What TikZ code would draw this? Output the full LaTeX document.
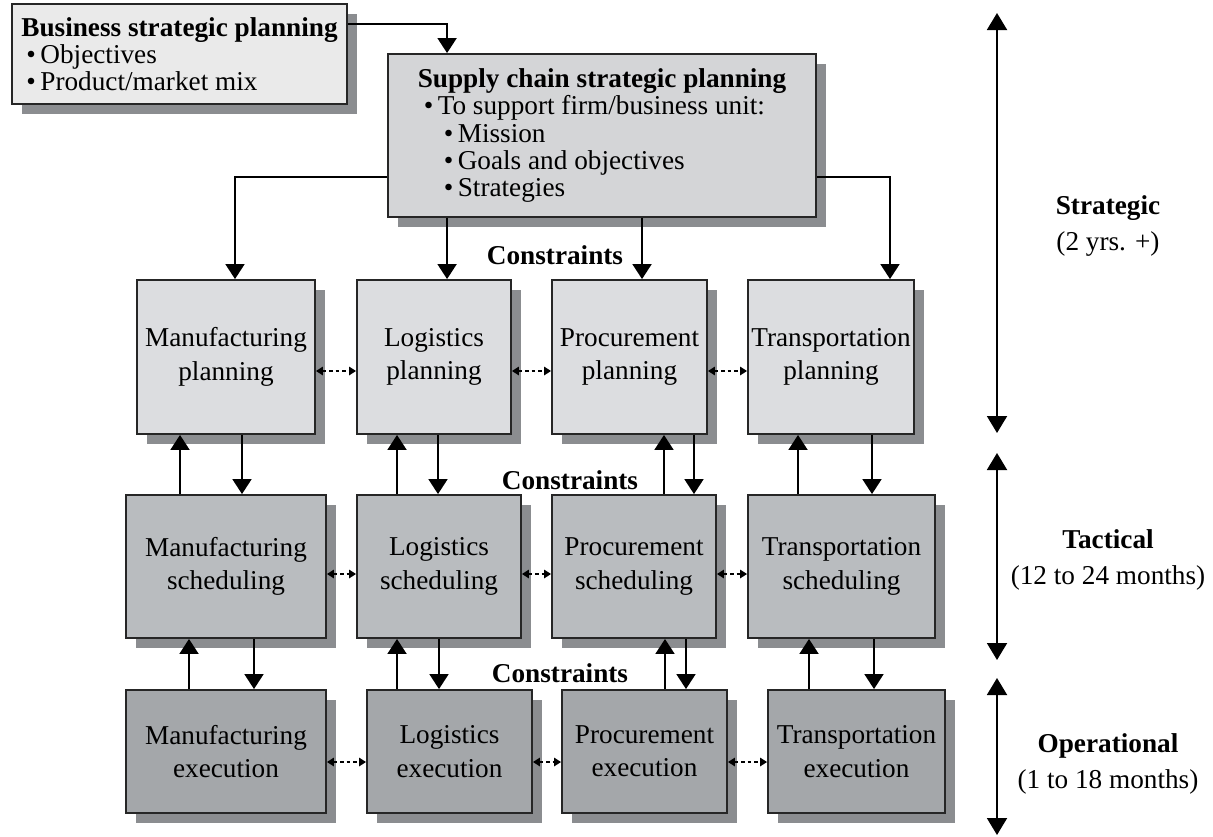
\documentclass[tikz,border=0pt]{standalone}
\usepackage{fontspec}
\setmainfont{Liberation Serif}
\usepackage{tikz}
\usetikzlibrary{arrows.meta,shadows}

\definecolor{shadowgray}{HTML}{8B8D90}
\definecolor{bizgray}{HTML}{EAEAEA}
\definecolor{stratgray}{HTML}{D4D5D7}
\definecolor{plangray}{HTML}{DCDDE0}
\definecolor{schedgray}{HTML}{B9BCBF}
\definecolor{execgray}{HTML}{A4A7AA}

\tikzstyle{block} = [rectangle, draw=black!85, line width=1.1pt, text centered, align=center, inner sep=1pt, font=\fontsize{15.5}{19}\selectfont, drop shadow={shadow xshift=0.2cm, shadow yshift=-0.2cm, fill=shadowgray, opacity=1}]
\tikzstyle{listbox} = [block, align=left, font=\fontsize{15.5}{15.5}\selectfont]
\tikzstyle{planbox} = [block, fill=plangray, minimum height=3.08cm]
\tikzstyle{schedbox} = [block, fill=schedgray, minimum height=2.86cm]
\tikzstyle{execbox} = [block, fill=execgray, minimum height=2.46cm]
\tikzstyle{note} = [font=\fontsize{15.5}{20}\selectfont, align=center]
\tikzstyle{connector} = [line width=1.1pt, -{Triangle[width=0.38cm,length=0.3cm]}]
\tikzstyle{link} = [line width=0.8pt, dash pattern=on 0.07cm off 0.06cm, {Triangle[width=0.17cm,length=0.14cm]}-{Triangle[width=0.17cm,length=0.14cm]}]
\tikzstyle{span} = [line width=1.1pt, {Triangle[width=0.4cm,length=0.34cm]}-{Triangle[width=0.4cm,length=0.34cm]}]

\begin{document}
\begin{tikzpicture}[x=0.02cm, y=-0.02cm]
    \useasboundingbox (0,0) rectangle (1213,836);
    % top level
    \node (bsp) [listbox, fill=bizgray, minimum width=6.7cm, minimum height=2cm] at (179.5,54) {\textbf{Business strategic planning}\\\hspace*{0.1cm}\textbullet\,Objectives\\\hspace*{0.1cm}\textbullet\,Product/market mix};
    \node (scsp) [listbox, fill=stratgray, minimum width=8.56cm, minimum height=3.26cm] at (602,135.5) {\textbf{Supply chain strategic planning}\\\hspace*{0.12cm}\textbullet\,To support firm/business unit:\\\hspace*{0.52cm}\textbullet\,Mission\\\hspace*{0.52cm}\textbullet\,Goals and objectives\\\hspace*{0.52cm}\textbullet\,Strategies};
    % planning row
    \node (mplan) [planbox, minimum width=3.56cm] at (226,357) {Manufacturing\\planning};
    \node (lplan) [planbox, minimum width=3.08cm] at (434,357) {Logistics\\planning};
    \node (pplan) [planbox, minimum width=3.1cm] at (629.5,357) {Procurement\\planning};
    \node (tplan) [planbox, minimum width=3.32cm] at (831,357) {Transportation\\planning};
    % scheduling row
    \node (msched) [schedbox, minimum width=4cm] at (226,566.5) {Manufacturing\\scheduling};
    \node (lsched) [schedbox, minimum width=3.28cm] at (439,566.5) {Logistics\\scheduling};
    \node (psched) [schedbox, minimum width=3.28cm] at (634,566.5) {Procurement\\scheduling};
    \node (tsched) [schedbox, minimum width=3.74cm] at (841.5,566.5) {Transportation\\scheduling};
    % execution row
    \node (mexec) [execbox, minimum width=4cm] at (226,751.5) {Manufacturing\\execution};
    \node (lexec) [execbox, minimum width=3.3cm] at (449.5,751.5) {Logistics\\execution};
    \node (pexec) [execbox, minimum width=3.3cm] at (644.5,751.5) {Procurement\\execution};
    \node (texec) [execbox, minimum width=3.54cm] at (856.5,751.5) {Transportation\\execution};
    % labels
    \node (con1) [note, font=\fontsize{15.5}{20}\selectfont\bfseries] at (555,255) {Constraints};
    \node (con2) [note, font=\fontsize{15.5}{20}\selectfont\bfseries] at (570,480) {Constraints};
    \node (con3) [note, font=\fontsize{15.5}{20}\selectfont\bfseries] at (560,673) {Constraints};
    \node (strat) [note] at (1108,226) {\textbf{Strategic}\\(2 yrs. +)};
    \node (tact) [note] at (1108,560) {\textbf{Tactical}\\(12 to 24 months)};
    \node (oper) [note] at (1108,764) {\textbf{Operational}\\(1 to 18 months)};
    \coordinate (stratTop) at (997,13);
    \coordinate (stratBot) at (997,433);
    \coordinate (tactTop) at (997,453);
    \coordinate (tactBot) at (997,660);
    \coordinate (operTop) at (997,678);
    \coordinate (operBot) at (997,835);
    % connectors from the top
    \draw [connector] ([yshift=-0.42cm]bsp.north east) -| ([xshift=1.2cm]scsp.north west);
    \draw [connector] ([yshift=-0.83cm]scsp.west) -| ([xshift=0.18cm]mplan.north);
    \draw [connector] ([xshift=1.2cm]scsp.south west) -- ([xshift=1.2cm]scsp.south west |- lplan.north);
    \draw [connector] ([xshift=5.1cm]scsp.south west) -- ([xshift=5.1cm]scsp.south west |- pplan.north);
    \draw [connector] ([yshift=-0.83cm]scsp.east) -| ([xshift=1.18cm]tplan.north);
    % planning <-> scheduling
    \draw [connector] ([xshift=-0.92cm]mplan.south |- msched.north) -- ([xshift=-0.92cm]mplan.south);
    \draw [connector] ([xshift=0.32cm]mplan.south) -- ([xshift=0.32cm]mplan.south |- msched.north);
    \draw [connector] ([xshift=-0.74cm]lplan.south |- lsched.north) -- ([xshift=-0.74cm]lplan.south);
    \draw [connector] ([xshift=0.08cm]lplan.south) -- ([xshift=0.08cm]lplan.south |- lsched.north);
    \draw [connector] ([xshift=0.69cm]pplan.south |- psched.north) -- ([xshift=0.69cm]pplan.south);
    \draw [connector] ([xshift=1.29cm]pplan.south) -- ([xshift=1.29cm]pplan.south |- psched.north);
    \draw [connector] ([xshift=-0.66cm]tplan.south |- tsched.north) -- ([xshift=-0.66cm]tplan.south);
    \draw [connector] ([xshift=0.82cm]tplan.south) -- ([xshift=0.82cm]tplan.south |- tsched.north);
    % scheduling <-> execution
    \draw [connector] ([xshift=-0.74cm]msched.south |- mexec.north) -- ([xshift=-0.74cm]msched.south);
    \draw [connector] ([xshift=0.56cm]msched.south) -- ([xshift=0.56cm]msched.south |- mexec.north);
    \draw [connector] ([xshift=-0.84cm]lsched.south |- lexec.north) -- ([xshift=-0.84cm]lsched.south);
    \draw [connector] (lsched.south) -- (lsched.south |- lexec.north);
    \draw [connector] ([xshift=0.62cm]psched.south |- pexec.north) -- ([xshift=0.62cm]psched.south);
    \draw [connector] ([xshift=1.04cm]psched.south) -- ([xshift=1.04cm]psched.south |- pexec.north);
    \draw [connector] ([xshift=-0.65cm]tsched.south |- texec.north) -- ([xshift=-0.65cm]tsched.south);
    \draw [connector] ([xshift=0.65cm]tsched.south) -- ([xshift=0.65cm]tsched.south |- texec.north);
    % dotted links within a row
    \draw [link] ([yshift=-0.28cm]mplan.east) -- ([yshift=-0.28cm]lplan.west);
    \draw [link] ([yshift=-0.28cm]lplan.east) -- ([yshift=-0.28cm]pplan.west);
    \draw [link] ([yshift=-0.28cm]pplan.east) -- ([yshift=-0.28cm]tplan.west);
    \draw [link] ([yshift=-0.15cm]msched.east) -- ([yshift=-0.15cm]lsched.west);
    \draw [link] ([yshift=-0.15cm]lsched.east) -- ([yshift=-0.15cm]psched.west);
    \draw [link] ([yshift=-0.15cm]psched.east) -- ([yshift=-0.15cm]tsched.west);
    \draw [link] ([yshift=-0.21cm]mexec.east) -- ([yshift=-0.21cm]lexec.west);
    \draw [link] ([yshift=-0.21cm]lexec.east) -- ([yshift=-0.21cm]pexec.west);
    \draw [link] ([yshift=-0.21cm]pexec.east) -- ([yshift=-0.21cm]texec.west);
    % time spans
    \draw [span] (stratTop) -- (stratBot);
    \draw [span] (tactTop) -- (tactBot);
    \draw [span] (operTop) -- (operBot);
\end{tikzpicture}
\end{document}
